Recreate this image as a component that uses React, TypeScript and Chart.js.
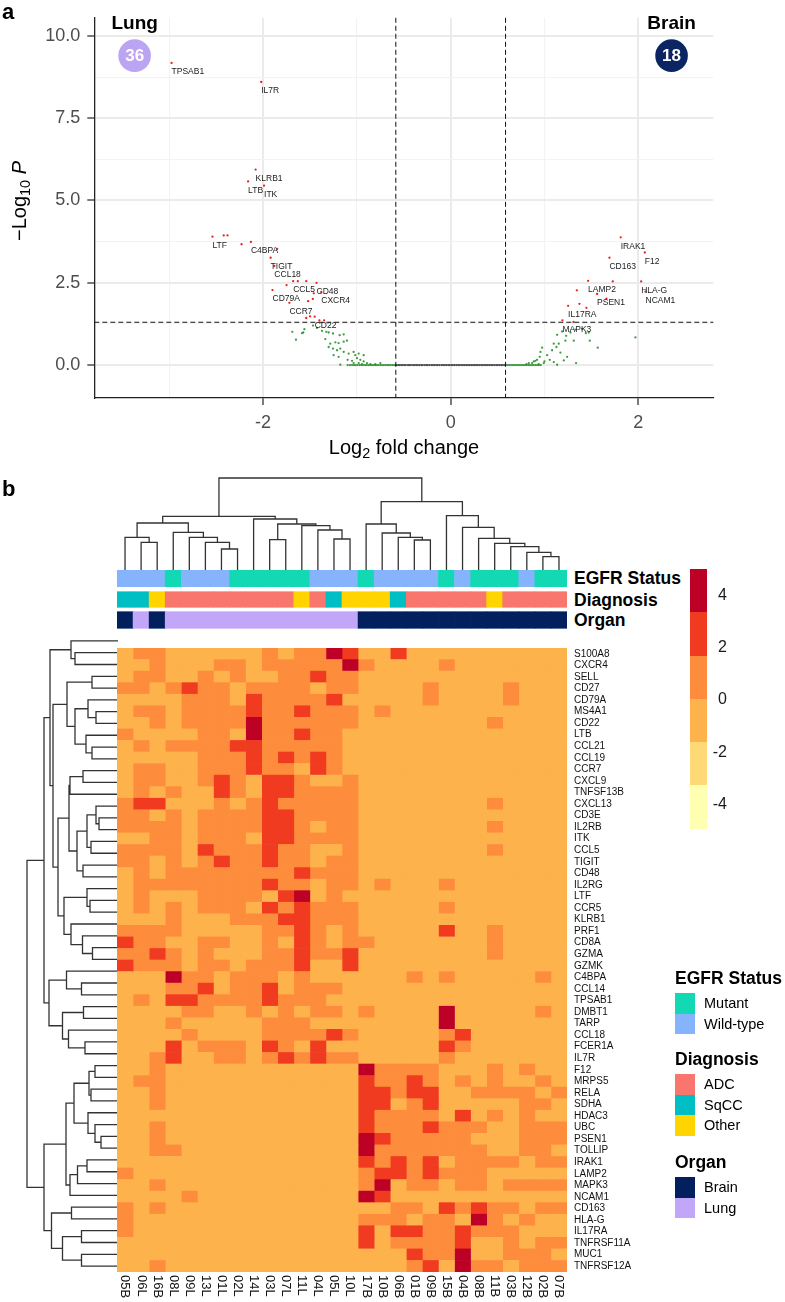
import React, { useEffect, useRef } from "react";
import { Chart, registerables } from "chart.js";
Chart.register(...registerables);

const FONT = '"Liberation Sans", Arial, Helvetica, sans-serif';

// ================= Panel a: volcano plot data =================
// non-significant (grey) points: [log2FC, -log10 P]
const nsPoints = [
  [-0.582, 0], [-0.561, 0], [-0.547, 0], [-0.529, 0], [-0.512, 0], [-0.494, 0], [-0.478, 0], [-0.455, 0],
  [-0.441, 0], [-0.423, 0], [-0.401, 0], [-0.386, 0], [-0.368, 0], [-0.349, 0], [-0.331, 0], [-0.312, 0],
  [-0.297, 0], [-0.276, 0], [-0.259, 0], [-0.244, 0], [-0.226, 0], [-0.205, 0], [-0.189, 0], [-0.171, 0],
  [-0.152, 0], [-0.137, 0], [-0.118, 0], [-0.097, 0], [-0.081, 0], [-0.063, 0], [-0.046, 0], [-0.027, 0],
  [-0.011, 0], [0.008, 0], [0.024, 0], [0.043, 0], [0.061, 0], [0.079, 0], [0.094, 0], [0.113, 0],
  [0.131, 0], [0.148, 0], [0.166, 0], [0.184, 0], [0.203, 0], [0.219, 0], [0.238, 0], [0.256, 0],
  [0.271, 0], [0.289, 0], [0.308, 0], [0.326, 0], [0.343, 0], [0.361, 0], [0.377, 0], [0.396, 0],
  [0.414, 0], [0.431, 0], [0.449, 0], [0.468, 0], [0.486, 0], [0.503, 0], [0.521, 0], [0.539, 0],
  [0.556, 0], [0.574, 0],
];
// fold-change only (green) points
const fcPoints = [
  [-1.689, 1.01], [-1.572, 0.99], [-1.65, 0.77], [-1.468, 1.2], [-1.585, 0.97], [-1.56, 1.09], [-1.426, 1.13],
  [-1.372, 1.04], [-1.326, 1.01], [-1.301, 0.99], [-1.255, 0.96], [-1.184, 0.91], [-1.141, 0.93], [-1.337, 0.79],
  [-1.284, 0.65], [-1.23, 0.69], [-1.195, 0.67], [-1.141, 0.71], [-1.106, 0.74], [-1.301, 0.55], [-1.255, 0.5],
  [-1.212, 0.45], [-1.177, 0.5], [-1.248, 0.3], [-1.195, 0.25], [-1.141, 0.4], [-1.088, 0.35], [-1.035, 0.4],
  [-1.017, 0.3], [-0.981, 0.35], [-0.928, 0.3], [-1.099, 0.16], [-1.052, 0.13], [-0.999, 0.21], [-0.964, 0.16],
  [-0.928, 0.11], [-0.892, 0.06], [-1.177, 0.01], [-1.035, 0.06], [-0.981, 0.06], [-0.946, 0.03], [-0.857, 0.03],
  [-0.804, 0.03], [-0.75, 0.06],
  [-1.098, 0], [-1.074, 0], [-1.052, 0], [-1.031, 0], [-1.012, 0], [-0.993, 0], [-0.971, 0], [-0.952, 0],
  [-0.934, 0], [-0.913, 0], [-0.896, 0], [-0.877, 0], [-0.858, 0], [-0.839, 0], [-0.821, 0], [-0.803, 0],
  [-0.786, 0], [-0.768, 0], [-0.749, 0], [-0.731, 0], [-0.712, 0], [-0.694, 0], [-0.676, 0], [-0.658, 0],
  [-0.641, 0], [-0.622, 0], [-0.604, 0], [-0.589, 0],
  [1.97, 0.84], [1.568, 0.53], [1.483, 0.74], [1.472, 0.99], [1.135, 0.92], [1.188, 1.02], [1.231, 0.89],
  [1.277, 0.99], [1.33, 1.08], [1.401, 1.1], [1.441, 0.97], [1.312, 0.74], [1.223, 0.74], [1.152, 0.65],
  [1.099, 0.65], [1.127, 0.55], [1.081, 0.45], [1.17, 0.38], [1.241, 0.25], [1.206, 0.14], [1.337, 0.06],
  [1.135, 0.01], [0.975, 0.53], [0.957, 0.4], [1.028, 0.3], [1.056, 0.16], [1.0, 0.11], [0.95, 0.25],
  [0.921, 0.16], [0.886, 0.11], [0.904, 0.13], [0.868, 0.06], [0.833, 0.06], [0.808, 0.03], [0.939, 0.03],
  [0.993, 0.06], [1.099, 0.09],
  [0.589, 0], [0.607, 0], [0.626, 0], [0.644, 0], [0.663, 0], [0.681, 0], [0.699, 0], [0.718, 0],
  [0.737, 0], [0.755, 0], [0.772, 0], [0.791, 0], [0.809, 0], [0.828, 0], [0.846, 0], [0.865, 0],
  [0.883, 0], [0.902, 0], [0.921, 0], [0.94, 0], [0.96, 0],
];
// significant (red) unlabeled points
const sigPoints = [
  [-2.42, 3.94], [-2.38, 3.94], [-2.23, 3.67], [-1.85, 3.53], [-1.63, 2.55], [-1.54, 2.55], [-1.75, 2.43],
  [-1.46, 2.18], [-1.47, 2.01], [-1.52, 1.94], [-1.54, 1.43], [-1.5, 1.48], [-1.4, 1.36], [-1.35, 1.36],
  [1.728, 2.54], [1.345, 2.27], [1.66, 2.02], [1.373, 1.86], [1.447, 1.74], [1.309, 1.31],
];
// labeled significant genes
const labelGenes = [
  "TPSAB1", "IL7R", "KLRB1", "LTB", "ITK", "LTF", "C4BPA", "TIGIT", "CCL18", "CCL5", "CD48", "CD79A",
  "CXCR4", "CCR7", "CD22", "IRAK1", "F12", "CD163", "LAMP2", "HLA-G", "PSEN1", "NCAM1", "IL17RA", "MAPK3",
];
const labelPoints = [
  [-2.976, 9.18], [-2.02, 8.6], [-2.08, 5.94], [-2.16, 5.58], [-1.99, 5.45], [-2.54, 3.9], [-2.13, 3.74],
  [-1.92, 3.26], [-1.88, 3.01], [-1.68, 2.55], [-1.43, 2.5], [-1.9, 2.28], [-1.38, 2.22], [-1.72, 1.89],
  [-1.45, 1.47], [1.813, 3.88], [2.07, 3.42], [1.693, 3.26], [1.465, 2.56], [2.031, 2.54], [1.561, 2.16],
  [2.077, 2.23], [1.252, 1.8], [1.192, 1.36],
];
const volcanoXTicks = [-3, -2, -1, 0, 1, 2];
const volcanoXLabeled = [-2, 0, 2];
const volcanoYTicks = [0, 1.25, 2.5, 3.75, 5, 6.25, 7.5, 8.75, 10];
const volcanoYLabeled = [0, 2.5, 5, 7.5, 10];
const FC_CUTOFF = 0.585;
const P_CUTOFF = 1.301;
const groupNames = ["Lung", "Brain"];
const groupCounts = [36, 18];
const groupX = [-3.37, 2.355];
const groupColors = ["#BBA4F2", "#0B2462"];

// ================= Panel b: heatmap data =================
const samples = ["05B", "06L", "16B", "08L", "09L", "13L", "01L", "02L", "14L", "03L", "07L", "11L", "04L", "05L",
  "10L", "17B", "10B", "06B", "01B", "09B", "15B", "04B", "08B", "11B", "03B", "12B", "02B", "07B"];
const egfrStatus = ["Wild-type", "Wild-type", "Wild-type", "Mutant", "Wild-type", "Wild-type", "Wild-type",
  "Mutant", "Mutant", "Mutant", "Mutant", "Mutant", "Wild-type", "Wild-type", "Wild-type", "Mutant",
  "Wild-type", "Wild-type", "Wild-type", "Wild-type", "Mutant", "Wild-type", "Mutant", "Mutant", "Mutant",
  "Wild-type", "Mutant", "Mutant"];
const diagnosis = ["SqCC", "SqCC", "Other", "ADC", "ADC", "ADC", "ADC", "ADC", "ADC", "ADC", "ADC", "Other",
  "ADC", "SqCC", "Other", "Other", "Other", "SqCC", "ADC", "ADC", "ADC", "ADC", "ADC", "Other", "ADC", "ADC",
  "ADC", "ADC"];
const organ = ["Brain", "Lung", "Brain", "Lung", "Lung", "Lung", "Lung", "Lung", "Lung", "Lung", "Lung", "Lung",
  "Lung", "Lung", "Lung", "Brain", "Brain", "Brain", "Brain", "Brain", "Brain", "Brain", "Brain", "Brain",
  "Brain", "Brain", "Brain", "Brain"];
const genes = ["S100A8", "CXCR4", "SELL", "CD27", "CD79A", "MS4A1", "CD22", "LTB", "CCL21", "CCL19", "CCR7",
  "CXCL9", "TNFSF13B", "CXCL13", "CD3E", "IL2RB", "ITK", "CCL5", "TIGIT", "CD48", "IL2RG", "LTF", "CCR5",
  "KLRB1", "PRF1", "CD8A", "GZMA", "GZMK", "C4BPA", "CCL14", "TPSAB1", "DMBT1", "TARP", "CCL18", "FCER1A",
  "IL7R", "F12", "MRPS5", "RELA", "SDHA", "HDAC3", "UBC", "PSEN1", "TOLLIP", "IRAK1", "LAMP2", "MAPK3",
  "NCAM1", "CD163", "HLA-G", "IL17RA", "TNFRSF11A", "MUC1", "TNFRSF12A"];
// z-score level per cell (columns in groups of 7): L ~ -1, O ~ 1, R ~ 3, D ~ 5
const levelValue = { L: -1, O: 1, R: 3, D: 5 };
const heatRows = [
  "LOOLLLL LLOLOOD RLLRLLL LLLLLLL",
  "LLOLLLO OLOOOOO DOLLLLO LLLLLLL",
  "LOOLLOL OLLOORO OLLLLLL LLLLLLL",
  "OOLOROO LOOOOLO OLLLLOL LLLOLLL",
  "LLLLOOO LROOOOR LLLLLOL LLLOLLL",
  "LOOLOOO OROOROO OLOLLLL LLLLLLL",
  "LLOLOOO ODOOOOO OLLLLLL LLOLLLL",
  "OLLLLOO LDOOROO LLLLLLL LLLLLLL",
  "LOLOOOO RROOOOO LLLLLLL LLLLLLL",
  "LLLLLOO ORORORO LLLLLLL LLLLLLL",
  "LOOLLOO OROOLRO LLLLLLL LLLLLLL",
  "LOOLLOR OLRROLL OLLLLLL LLLLLLL",
  "LOLOLLR OLRROOO OLLLLLL LLLLLLL",
  "ORRLLLO LOROOOO OLLLLLL LLOLLLL",
  "OOLOLOO OORROOO OLLLLLL LLLLLLL",
  "OOOOLOO OORROLO OLLLLLL LLOLLLL",
  "LLOOLOO OLRROOO OLLLLLL LLLLLLL",
  "OOOOLRO OOROOLL OLLLLLL LLOLLLL",
  "OOLOLOR OOROOLO OLLLLLL LLLLLLL",
  "LOLOOOO OOOOROO OLLLLLL LLLLLLL",
  "LOOOOOO OOROOLO OLOLLLO LLLLLLL",
  "LOLLLOO OOLRDLO LLLLLLL LLLLLLL",
  "LOLOLOO OLROROO OLLLLLO LLLLLLL",
  "LLLOLLL OOORROO OLLLLLL LLLLLLL",
  "OOOOLLL LLOOROL OLLLLLR LLOLLLL",
  "ROOLLOO LLOLROL OOLLLLL LLOLLLL",
  "OOROLOL LLOOROO RLLLLLL LLOLLLL",
  "ROOOLOO LOOORLL RLLLLLL LLLLLLL",
  "LLLDOOL OOOLOLL LLLLOLO LLLLLOL",
  "LLLOORL OORLOOO LLLLLLL LLLLLLL",
  "LOLRROO OOROOOL LLLLLLL LLLLLLL",
  "LLLLOOL LOLOLOO LOLLLLD LLLLLOL",
  "LLLOLLL LLOOOLL LLLLLLD LLLLLLL",
  "LLLLOLL LLOOOOR OLLLLLO RLLLLLL",
  "LLLRLOO OLROLRL LLLLLLR OLLLLLL",
  "LLORLLO OLORORO OLLLLLO LLLLLLL",
  "LLOLLLL LLLLLLL LDOOOOL LLOLOLL",
  "LOOLLLL LLLLLLL LROOROL OLOLLOL",
  "LLOLLLL LLLLLLL LRRORRL LOOOOLO",
  "LLOLLLL LLLLLLL LRRLORL LLLLOOL",
  "LLLLLLL LLLLLLL LROOOOL RLOLOLL",
  "LLOLLLL LLLLLLL LROOORO OOLLOOO",
  "LLOLLLL LLLLLLL LDROOOO OLLLOOO",
  "LLOOLLL LLLLLLL LDOOOOO OOLLOOL",
  "LLLLLLL LLLLLLL LRORORL OOOOLOO",
  "OLLLLLL LLLLLLL LORRORO OOLLLLL",
  "LLOLLLL LLLLLLL LODLOOL OOLOOOO",
  "LLLLOLL LLLLLLL LDRLLLL LLLLLLL",
  "OLOLLLL LLLLLLL LLLOOLR OROOLOO",
  "OLLLLLL LLLLLLL LOOOLOO LDOLOLL",
  "OLLLLLL LLLLLLL LRLRROO ROOOLLL",
  "LLLLLLL LLLLLLL LRLOOOO RLLOLOO",
  "LLLLLLL LLLLLLL LLLLROO DLLOOOL",
  "LLOLLLL LLLLLLL LLLLORL DOOLOOO",
];
// colour scale (YlOrRd) with breaks
const colorBreaks = [-4, -2, 0, 2, 4];
const scaleColors = ["#FFFFB2", "#FED976", "#FEB24C", "#FD8D3C", "#F03B20", "#BD0026"];
const colorbarLabels = [4, 2, 0, -2, -4];
const colorbarRange = [-4.95, 5.0];

// dendrograms: [left, right, mergeHeight]; leaves are display positions
const colTree = [
  [
    [[0, [1, 2, 27.7], 32.7], [3, [4, [5, [6, 7, 21], 27.7], 32.7], 37.7], 47],
    [8, [[9, 10, 30.3], [11, [12, [13, 14, 31], 40], 44.3], 46], 51],
    53.7,
  ],
  [
    [15, [16, [17, [18, 19, 30], 32.7], 37], 46],
    [20, [21, [22, [23, [24, [25, [26, 27, 13.3], 17.7], 23.3], 26.7], 31.7], 42.7], 54.3],
    68.3,
  ],
  92,
];
const rowTree = [
  [
    [
      [0, [1, 2, 43], 47],
      [
        [[3, 4, 26], [[5, [6, 7, 22], 30], [8, [9, 10, 26], 32], 43], 51],
        [
          [[[11, 12, 35], 13, 48], [[[14, [15, 16, 19], 22], [17, 18, 27], 31], [19, 20, 35], 41], 49],
          [[21, [22, 23, 28], 31], [24, [25, [26, 27, 25.5], 35.5], 47], 54],
          60,
        ],
        65,
      ],
      68,
    ],
    [[28, [29, 30, 36.5], 51.5], [[31, 32, 34.5], [33, [34, 35, 33], 49.5], 55.5], 69],
    74,
  ],
  [
    [
      [[[36, 37, 23], [38, 39, 27], 29], [40, [41, [42, 43, 17], 23], 30], 44],
      [[[44, 45, 31], 46, 40.5], 47, 48],
      52,
    ],
    [[48, 49, 46.5], [[50, 51, 36.5], [52, 53, 36.5], 55.5], 66.5],
    74,
  ],
  91,
];

const egfrColors = { Mutant: "#12D8B4", "Wild-type": "#86B4FC" };
const diagColors = { ADC: "#F8766D", SqCC: "#00BFC4", Other: "#FFD400" };
const organColors = { Brain: "#03205E", Lung: "#C2A6F8" };

// ================= layout constants (pixels) =================
const HM_LEFT = 117, HM_TOP = 635, HM_W = 450, HM_H = 637;
const ANN_TOP = 570;
const annTracks = [
  { name: "EGFR Status", values: egfrStatus, colors: egfrColors, top: 0, bottom: 16.7 },
  { name: "Diagnosis", values: diagnosis, colors: diagColors, top: 21.7, bottom: 37.3 },
  { name: "Organ", values: organ, colors: organColors, top: 41.7, bottom: 58.3 },
];
const legendBlocks = [
  { title: "EGFR Status", titleY: 978, firstY: 993, items: ["Mutant", "Wild-type"], colors: egfrColors },
  { title: "Diagnosis", titleY: 1059, firstY: 1074, items: ["ADC", "SqCC", "Other"], colors: diagColors },
  { title: "Organ", titleY: 1161.5, firstY: 1177, items: ["Brain", "Lung"], colors: organColors },
];

function colorFor(v: number) {
  let i = 0;
  while (i < colorBreaks.length && v >= colorBreaks[i]) i++;
  return scaleColors[i];
}

function dendroPoints(tree: any, toPoint: (pos: number, h: number) => any) {
  const pts: any[] = [];
  const walk = (n: any): [number, number] => {
    if (typeof n === "number") return [n, 0];
    const [l, r, h] = n;
    const [pl, hl] = walk(l);
    const [pr, hr] = walk(r);
    pts.push(toPoint(pl, hl), toPoint(pl, h), toPoint(pr, h), toPoint(pr, hr), { x: NaN, y: NaN });
    return [(pl + pr) / 2, h];
  };
  walk(tree);
  return pts;
}

const volcanoDecor = {
  id: "volcanoDecor",
  afterDatasetsDraw(chart: any) {
    const { ctx, chartArea: a } = chart;
    const x = chart.scales.x, y = chart.scales.y;
    ctx.save();
    ctx.strokeStyle = "#111";
    ctx.lineWidth = 1;
    ctx.setLineDash([5, 3]);
    [-FC_CUTOFF, FC_CUTOFF].forEach((v) => {
      const px = x.getPixelForValue(v);
      ctx.beginPath(); ctx.moveTo(px, a.top); ctx.lineTo(px, a.bottom); ctx.stroke();
    });
    const py = y.getPixelForValue(P_CUTOFF);
    ctx.beginPath(); ctx.moveTo(a.left, py); ctx.lineTo(a.right, py); ctx.stroke();
    ctx.setLineDash([]);
    ctx.font = `8.5px ${FONT}`;
    ctx.fillStyle = "#1a1a1a";
    ctx.textAlign = "left";
    ctx.textBaseline = "middle";
    labelGenes.forEach((g, i) => {
      const [vx, vy] = labelPoints[i];
      ctx.fillText(g, x.getPixelForValue(vx), y.getPixelForValue(vy) + 9);
    });
    const circleY = y.getPixelForValue(9.4);
    const titleY = y.getPixelForValue(10.37);
    groupNames.forEach((name, i) => {
      const cx = x.getPixelForValue(groupX[i]);
      ctx.fillStyle = "#000";
      ctx.font = `bold 19px ${FONT}`;
      ctx.textAlign = "center";
      ctx.fillText(name, cx, titleY);
      ctx.beginPath();
      ctx.arc(cx, circleY, 16.3, 0, Math.PI * 2);
      ctx.fillStyle = groupColors[i];
      ctx.fill();
      ctx.fillStyle = "#fff";
      ctx.font = `bold 17px ${FONT}`;
      ctx.fillText(String(groupCounts[i]), cx, circleY + 1);
    });
    ctx.restore();
  },
};

const colLabelPlugin = {
  id: "colLabels",
  afterDraw(chart: any) {
    const { ctx, chartArea: a } = chart;
    const x = chart.scales.x;
    ctx.save();
    ctx.font = `13px ${FONT}`;
    ctx.fillStyle = "#111";
    ctx.textAlign = "left";
    ctx.textBaseline = "middle";
    samples.forEach((s, i) => {
      ctx.save();
      ctx.translate(x.getPixelForValue(i + 0.5), a.bottom + 3);
      ctx.rotate(Math.PI / 2);
      ctx.fillText(s, 0, 0);
      ctx.restore();
    });
    ctx.restore();
  },
};

export default function App() {
  const volRef = useRef<HTMLCanvasElement>(null);
  const colDenRef = useRef<HTMLCanvasElement>(null);
  const rowDenRef = useRef<HTMLCanvasElement>(null);
  const annRef = useRef<HTMLCanvasElement>(null);
  const heatRef = useRef<HTMLCanvasElement>(null);

  useEffect(() => {
    Chart.defaults.font.family = FONT;
    const charts: any[] = [];
    const noPlug = { legend: { display: false }, tooltip: { enabled: false } };
    const isMajorY = (v: number) => volcanoYLabeled.includes(v);
    const isMajorX = (v: number) => volcanoXLabeled.includes(v);
    const toXY = (p: number[]) => ({ x: p[0], y: p[1] });

    charts.push(
      new Chart(volRef.current as any, {
        type: "scatter",
        data: {
          datasets: [
            { data: nsPoints.map(toXY), backgroundColor: "#4D4D4D", pointRadius: 1.15, borderWidth: 0 },
            { data: fcPoints.map(toXY), backgroundColor: "rgba(34,139,34,0.85)", pointRadius: 1.15, borderWidth: 0 },
            { data: [...sigPoints, ...labelPoints].map(toXY), backgroundColor: "#F01E1E", pointRadius: 1.15, borderWidth: 0 },
          ],
        },
        options: {
          responsive: false,
          animation: false,
          layout: { autoPadding: false, padding: { left: 0, right: 71.7, top: 4, bottom: 0 } },
          plugins: noPlug,
          scales: {
            x: {
              type: "linear", min: -3.8, max: 2.8,
              afterBuildTicks: (s: any) => { s.ticks = volcanoXTicks.map((v) => ({ value: v })); },
              afterFit: (s: any) => { s.height = 72; },
              ticks: {
                autoSkip: false, maxRotation: 0, padding: 7, color: "#4D4D4D", font: { size: 18, family: FONT },
                callback: (v: any) => (isMajorX(v) ? String(v) : ""),
              },
              grid: {
                color: (c: any) => (isMajorX(c.tick?.value) ? "#EBEBEB" : "#F3F3F3"),
                lineWidth: (c: any) => (isMajorX(c.tick?.value) ? 2 : 1.1),
                tickLength: 7, tickWidth: 1.2,
                tickColor: (c: any) => (isMajorX(c.tick?.value) ? "#222" : "rgba(0,0,0,0)"),
              },
              border: { display: true, color: "#222", width: 1.3 },
            },
            y: {
              type: "linear", min: -1.0, max: 10.55,
              afterBuildTicks: (s: any) => { s.ticks = volcanoYTicks.map((v) => ({ value: v })); },
              afterFit: (s: any) => { s.width = 94.3; },
              ticks: {
                autoSkip: false, padding: 7, color: "#4D4D4D", font: { size: 18, family: FONT },
                callback: (v: any) => (isMajorY(v) ? Number(v).toFixed(1) : ""),
              },
              grid: {
                color: (c: any) => (isMajorY(c.tick?.value) ? "#EBEBEB" : "#F3F3F3"),
                lineWidth: (c: any) => (isMajorY(c.tick?.value) ? 2 : 1.1),
                tickLength: 7, tickWidth: 1.2,
                tickColor: (c: any) => (isMajorY(c.tick?.value) ? "#222" : "rgba(0,0,0,0)"),
              },
              border: { display: true, color: "#222", width: 1.3 },
            },
          },
        } as any,
        plugins: [volcanoDecor],
      })
    );

    // column dendrogram
    charts.push(
      new Chart(colDenRef.current as any, {
        type: "scatter",
        data: {
          datasets: [{
            data: dendroPoints(colTree, (pos, h) => ({ x: pos, y: h })),
            showLine: true, spanGaps: false, borderColor: "#333", borderWidth: 1.3, pointRadius: 0,
          }],
        },
        options: {
          responsive: false, animation: false, layout: { autoPadding: false, padding: 0 }, plugins: noPlug,
          scales: {
            x: { type: "linear", display: false, min: -0.5, max: samples.length - 0.5 },
            y: { type: "linear", display: false, min: 0, max: 100 },
          },
        } as any,
      })
    );

    // row dendrogram
    charts.push(
      new Chart(rowDenRef.current as any, {
        type: "scatter",
        data: {
          datasets: [{
            data: dendroPoints(rowTree, (pos, h) => ({ x: h, y: pos })),
            showLine: true, spanGaps: false, borderColor: "#333", borderWidth: 1.3, pointRadius: 0,
          }],
        },
        options: {
          responsive: false, animation: false, layout: { autoPadding: false, padding: 0 }, plugins: noPlug,
          scales: {
            x: { type: "linear", display: false, min: 0, max: HM_LEFT + 1, reverse: true },
            y: { type: "linear", display: false, min: -0.5, max: genes.length - 0.5, reverse: true },
          },
        } as any,
      })
    );

    // annotation tracks
    charts.push(
      new Chart(annRef.current as any, {
        type: "bar",
        data: {
          labels: samples,
          datasets: annTracks.map((t) => ({
            data: samples.map(() => [t.top, t.bottom]),
            backgroundColor: t.values.map((v) => (t.colors as any)[v]),
            grouped: false, barPercentage: 1, categoryPercentage: 1, borderWidth: 0,
          })),
        },
        options: {
          responsive: false, animation: false, layout: { autoPadding: false, padding: 0 }, plugins: noPlug,
          scales: {
            x: { display: false },
            y: { display: false, min: 0, max: 59, reverse: true },
          },
        } as any,
      })
    );

    // heatmap
    const matrix = heatRows.map((r) => r.replace(/\s/g, "").padEnd(samples.length, "L").slice(0, samples.length).split("").map((c) => (levelValue as any)[c]));
    charts.push(
      new Chart(heatRef.current as any, {
        type: "bar",
        data: {
          labels: genes,
          datasets: samples.map((s, c) => ({
            label: s,
            data: genes.map(() => 1),
            backgroundColor: genes.map((g, r) => colorFor(matrix[r][c])),
            borderWidth: 0, barPercentage: 1, categoryPercentage: 1,
          })),
        },
        options: {
          indexAxis: "y",
          responsive: false, animation: false,
          layout: { autoPadding: false, padding: { top: 0, left: 0, right: 0, bottom: 30 } },
          plugins: noPlug,
          scales: {
            x: { type: "linear", stacked: true, min: 0, max: samples.length, display: false },
            y: {
              type: "category", stacked: true, position: "right",
              grid: { display: false, drawTicks: false }, border: { display: false },
              ticks: { autoSkip: false, padding: 7, color: "#111", font: { size: 10, family: FONT } },
              afterFit: (s: any) => { s.width = 785 - HM_LEFT - HM_W; },
            },
          },
        } as any,
        plugins: [colLabelPlugin],
      })
    );

    return () => charts.forEach((c) => c.destroy());
  }, []);

  const abs = (l: number, t: number, w: number, h: number): any => ({ position: "absolute", left: l, top: t, width: w, height: h });
  const cbTop = 569.3, cbH = 259, cbSeg = cbH / scaleColors.length;
  const cbY = (v: number) => cbTop + ((colorbarRange[1] - v) / (colorbarRange[1] - colorbarRange[0])) * cbH;

  return (
    <div style={{ position: "absolute", left: 0, top: 0, width: 785, height: 1302, background: "#fff", fontFamily: FONT, color: "#000", overflow: "hidden" }}>
      <canvas ref={volRef} width={785} height={470} style={abs(0, 0, 785, 470)} />
      <div style={{ position: "absolute", left: 2, top: 0, fontSize: 22, fontWeight: "bold", lineHeight: "24px" }}>a</div>
      <div style={{ position: "absolute", left: 20, top: 201, transform: "translate(-50%,-50%) rotate(-90deg)", whiteSpace: "nowrap", fontSize: 20, lineHeight: "24px" }}>
        −Log<span style={{ fontSize: "0.72em", position: "relative", top: "0.3em" }}>10</span> <i>P</i>
      </div>
      <div style={{ position: "absolute", left: 404, top: 448, transform: "translate(-50%,-50%)", whiteSpace: "nowrap", fontSize: 20, lineHeight: "24px" }}>
        Log<span style={{ fontSize: "0.72em", position: "relative", top: "0.3em" }}>2</span> fold change
      </div>

      <div style={{ position: "absolute", left: 2, top: 477, fontSize: 22, fontWeight: "bold", lineHeight: "24px" }}>b</div>
      <canvas ref={colDenRef} width={HM_W} height={100} style={abs(HM_LEFT, 470, HM_W, 100)} />
      <canvas ref={annRef} width={HM_W} height={59} style={abs(HM_LEFT, ANN_TOP, HM_W, 59)} />
      {annTracks.map((t) => (
        <div key={t.name} style={{ position: "absolute", left: 574, top: ANN_TOP + (t.top + t.bottom) / 2 - 11, height: 22, lineHeight: "22px", fontSize: 17.5, fontWeight: "bold", whiteSpace: "nowrap" }}>{t.name}</div>
      ))}
      <canvas ref={rowDenRef} width={HM_LEFT + 1} height={HM_H} style={abs(0, HM_TOP, HM_LEFT + 1, HM_H)} />
      <canvas ref={heatRef} width={785 - HM_LEFT} height={1302 - HM_TOP} style={abs(HM_LEFT, HM_TOP, 785 - HM_LEFT, 1302 - HM_TOP)} />

      {scaleColors.slice().reverse().map((c, i) => (
        <div key={c} style={{ position: "absolute", left: 690, top: cbTop + i * cbSeg, width: 17, height: cbSeg + 0.5, background: c }} />
      ))}
      {colorbarLabels.map((v) => (
        <div key={v} style={{ position: "absolute", left: 700, width: 27, textAlign: "right", top: cbY(v) - 10, height: 20, lineHeight: "20px", fontSize: 16, color: "#1a1a1a" }}>{v}</div>
      ))}

      {legendBlocks.map((b) => (
        <React.Fragment key={b.title}>
          <div style={{ position: "absolute", left: 675, top: b.titleY - 11, height: 22, lineHeight: "22px", fontSize: 17.5, fontWeight: "bold", whiteSpace: "nowrap" }}>{b.title}</div>
          {b.items.map((it, i) => (
            <React.Fragment key={it}>
              <div style={{ position: "absolute", left: 675, top: b.firstY + i * 20.7, width: 20, height: 20.7, background: (b.colors as any)[it] }} />
              <div style={{ position: "absolute", left: 704, top: b.firstY + i * 20.7, height: 20.7, lineHeight: "20.7px", fontSize: 14.5, whiteSpace: "nowrap" }}>{it}</div>
            </React.Fragment>
          ))}
        </React.Fragment>
      ))}
    </div>
  );
}
